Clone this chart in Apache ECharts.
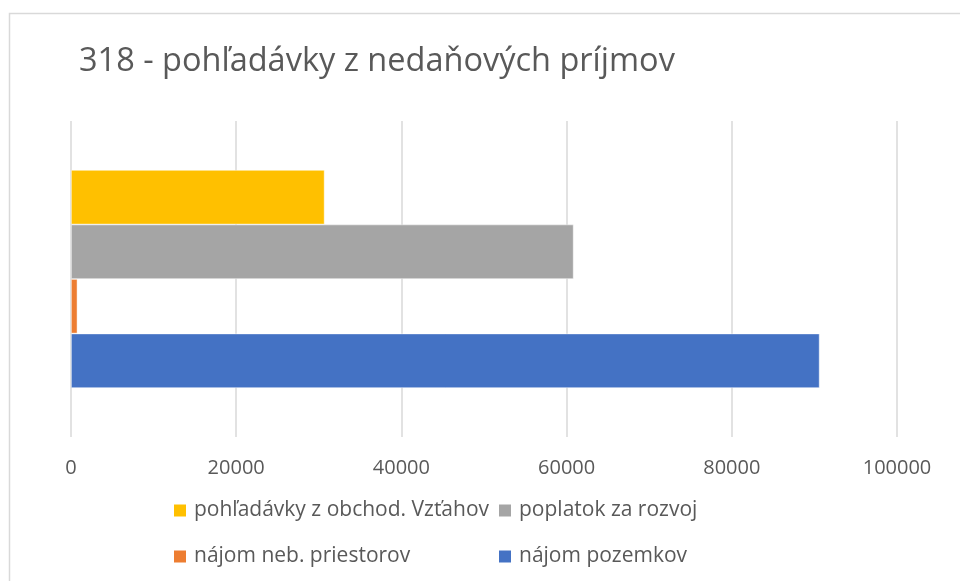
<!DOCTYPE html>
<html>
<head>
<meta charset="utf-8">
<script src="https://cdn.jsdelivr.net/npm/echarts@6/dist/echarts.min.js"></script>
<style>
html,body{margin:0;padding:0;background:#fff;}
#c{width:960px;height:581px;}
</style>
</head>
<body>
<div id="c"></div>
<script>
const titleText = '318 - pohľadávky z nedaňových príjmov';
const categories = [''];
const seriesNames = ['pohľadávky z obchod. Vzťahov', 'poplatok za rozvoj', 'nájom neb. priestorov', 'nájom pozemkov'];
const seriesColors = ['#FFC000', '#A5A5A5', '#ED7D31', '#4472C4'];
const pohladavkyObchod = [30700];
const poplatokZaRozvoj = [60850];
const najomNebPriestorov = [780];
const najomPozemkov = [90630];
const xTicks = [0, 20000, 40000, 60000, 80000, 100000];
const seriesValues = [pohladavkyObchod, poplatokZaRozvoj, najomNebPriestorov, najomPozemkov];

const FONT = 'Open Sans';
const TXT = '#595959';

const chart = echarts.init(document.getElementById('c'), null, {renderer: 'canvas'});

function legendAt(name, left, top) {
  return {
    data: [name], left: left, top: top, padding: 0,
    itemWidth: 12, itemHeight: 12, icon: 'rect',
    itemStyle: {borderWidth: 0},
    selectedMode: false,
    textStyle: {color: TXT, fontFamily: FONT, fontSize: 21, padding: [0, 0, 0, 3]}
  };
}

chart.setOption({
  animation: false,
  backgroundColor: '#ffffff',
  title: {
    text: titleText, left: 79, top: 45, padding: 0,
    textStyle: {color: TXT, fontFamily: FONT, fontSize: 32.5, fontWeight: 'normal'}
  },
  graphic: [{
    type: 'rect', left: 7, top: 11, z: -1,
    shape: {x: 0, y: 0, width: 1000, height: 700},
    style: {fill: 'none', stroke: '#d9d9d9', lineWidth: 1.5}
  }],
  legend: [
    legendAt(seriesNames[0], 174, 500),
    legendAt(seriesNames[1], 499, 500),
    legendAt(seriesNames[2], 174, 546),
    legendAt(seriesNames[3], 499, 546)
  ],
  grid: {left: 71, right: 63, top: 121, bottom: 144, containLabel: false},
  xAxis: {
    type: 'value', min: xTicks[0], max: xTicks[xTicks.length - 1], interval: xTicks[1] - xTicks[0],
    axisLine: {show: false}, axisTick: {show: false},
    splitLine: {show: true, lineStyle: {color: '#d9d9d9', width: 1.5}},
    axisLabel: {color: TXT, fontFamily: FONT, fontSize: 20, margin: 21, formatter: v => String(v)}
  },
  yAxis: {
    type: 'category', data: categories,
    axisLine: {show: false}, axisTick: {show: false}, axisLabel: {show: false},
    splitLine: {show: false}
  },
  series: seriesNames.map((n, i) => ({
    name: n, type: 'bar', data: seriesValues[i],
    barGap: '0%', barCategoryGap: '31%',
    itemStyle: {color: seriesColors[i], borderColor: 'rgba(255,255,255,0.6)', borderWidth: 0.75},
    emphasis: {disabled: true}
  }))
});
</script>
</body>
</html>
